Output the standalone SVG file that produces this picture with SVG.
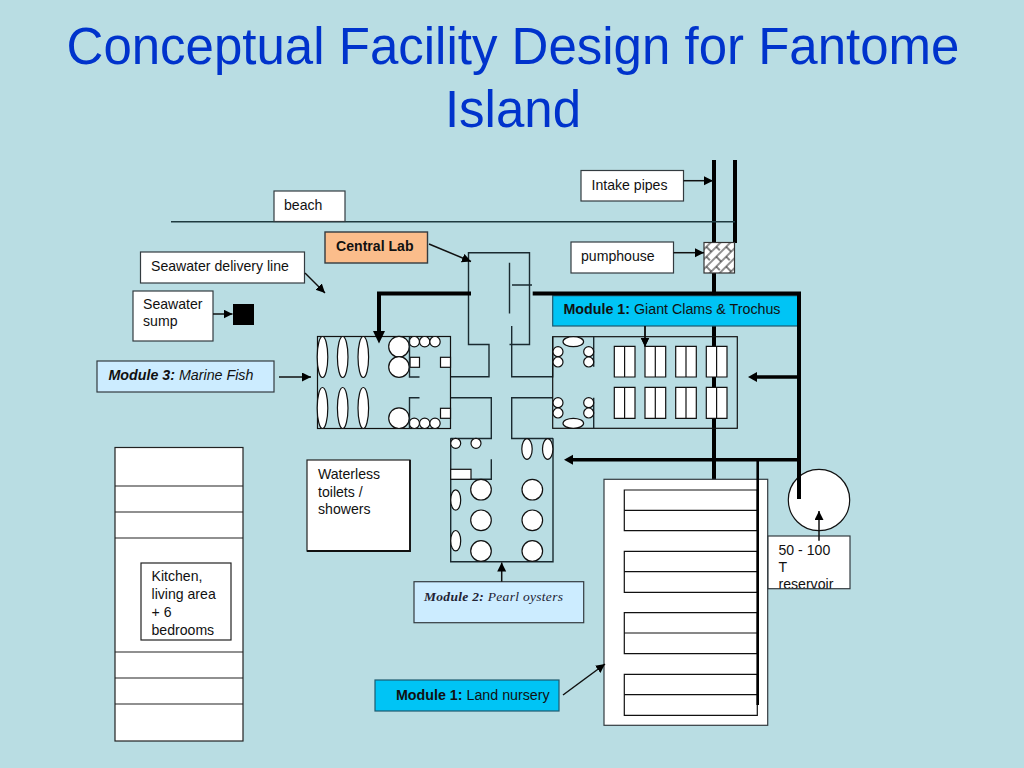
<svg xmlns="http://www.w3.org/2000/svg" width="1024" height="768" viewBox="0 0 1024 768">
<style>
text{font-family:"Liberation Sans",Arial,sans-serif;font-size:14.1px;fill:#111}
.title{font-size:51px;fill:#0033cc;text-anchor:middle}
.lab{font-size:14.25px}
.box{fill:#fff;stroke:#333b40;stroke-width:1.2}
.w{fill:#fff;stroke:#111;stroke-width:1.2}
.o{fill:none;stroke:#1a2a30;stroke-width:1.4}
.thin{fill:none;stroke:#111;stroke-width:1.5}
.thick{fill:none;stroke:#000;stroke-width:4}
.mid{fill:none;stroke:#000;stroke-width:2.6}
.a{marker-end:url(#sm)}
.s{font-family:"Liberation Serif","Times New Roman",serif;font-style:italic;fill:#223}
</style>
<defs>
<marker id="sm" markerUnits="userSpaceOnUse" markerWidth="10" markerHeight="10" refX="9" refY="4.5" orient="auto"><path d="M0 0L9 4.500L0 9z" fill="#000"/></marker>
<pattern id="hatch" patternUnits="userSpaceOnUse" width="14" height="14" patternTransform="rotate(-45 0 0)"><rect width="14" height="14" fill="#fff"/><path d="M0 2H14M0 9H14M3 2V9M10 9V16" stroke="#222" stroke-width="1.100" fill="none"/></pattern>
<clipPath id="resclip"><rect x="768" y="536" width="82" height="52.500"/></clipPath>
</defs>
<rect width="1024" height="768" fill="#b9dde3"/>
<g id="title">
<text class="title" x="513" y="64">Conceptual Facility Design for Fantome</text>
<text class="title" x="513" y="127">Island</text>
</g>
<g id="pipes-back">
<path class="thick" d="M714 160V480M735 160V243"/>
</g>
<g id="beach-line"><path d="M171 221.700H735" fill="none" stroke="#1f3a40" stroke-width="1.400"/></g>
<g id="node-beach"><rect class="box" x="274" y="191" width="71" height="30.500"/><text x="284" y="210">beach</text></g>
<g id="node-intake"><rect class="box" x="581" y="170.500" width="102.500" height="30.500"/><text x="591.500" y="190">Intake pipes</text></g>
<g id="node-pumphouse"><rect class="box" x="571" y="242" width="102.500" height="31"/><text x="581" y="261">pumphouse</text></g>
<g id="node-pump"><rect x="704" y="242.500" width="30.500" height="30.500" fill="url(#hatch)" stroke="#333" stroke-width="1.200"/></g>
<g id="node-central-lab"><rect x="325" y="232" width="102.500" height="31" fill="#fbbd8b" stroke="#333b40" stroke-width="1.400"/><text x="336" y="251" style="font-weight:bold">Central Lab</text></g>
<g id="node-delivery"><rect class="box" x="140.500" y="252" width="164" height="31"/><text x="151" y="271">Seawater delivery line</text></g>
<g id="node-sump"><rect class="box" x="133" y="291" width="80" height="50"/><text x="143" y="309">Seawater</text><text x="143" y="326">sump</text><rect x="233" y="304" width="21" height="21" fill="#000"/></g>
<g id="node-module3-label"><rect x="97" y="361" width="177" height="31" fill="#ccecff" stroke="#333b40" stroke-width="1.200"/><text class="lab" x="108.500" y="380"><tspan style="font-weight:bold;font-style:italic">Module 3: </tspan><tspan style="font-style:italic">Marine Fish</tspan></text></g>
<g id="node-central-building">
<path class="o" d="M450.500 376.700H489V344.500H468.500V252.700H529.500V344.500H509.500"/>
<path class="o" d="M509.500 262.700V313.500M512 285H532M511.700 326V376.700H552.700V336.700"/>
<path class="o" d="M450.500 397.700H491.300V438.500H450.500M553 397.700H511.700V438.500H553"/>
</g>
<g id="node-module3">
<rect x="317.500" y="336.500" width="133" height="92" fill="none" stroke="#111" stroke-width="1.200"/>
<g class="w">
<ellipse cx="322.500" cy="357" rx="5.300" ry="20.500"/><ellipse cx="342.700" cy="357" rx="5.300" ry="20.500"/><ellipse cx="363.300" cy="357" rx="5.300" ry="20.500"/>
<ellipse cx="322.500" cy="408" rx="5.300" ry="20.500"/><ellipse cx="342.700" cy="408" rx="5.300" ry="20.500"/><ellipse cx="363.300" cy="408" rx="5.300" ry="20.500"/>
<circle cx="399" cy="346.700" r="10.300"/><circle cx="399" cy="367" r="10.300"/><circle cx="399" cy="418.200" r="10.300"/>
<circle cx="414.300" cy="341.700" r="5.200"/><circle cx="424.700" cy="341.700" r="5.200"/><circle cx="435" cy="341.700" r="5.200"/>
<circle cx="414.300" cy="423.300" r="5.200"/><circle cx="424.700" cy="423.300" r="5.200"/><circle cx="435" cy="423.300" r="5.200"/>
<rect x="410" y="357.300" width="9.500" height="10"/><rect x="440.500" y="357.300" width="10" height="10"/><rect x="440.500" y="408.300" width="10" height="10"/>
</g>
<path class="o" d="M419.500 377H409.500V336.500M419.500 397.700H409.500V428.500"/>
</g>
<g id="node-module1-tanks">
<rect x="552.700" y="336.700" width="184.600" height="91.600" fill="none" stroke="#111" stroke-width="1.200"/>
<path class="o" d="M593.700 336.700V366.700M593.700 397.700V428.300"/>
<g class="w">
<ellipse cx="573.300" cy="341.700" rx="10.300" ry="5"/><ellipse cx="573.300" cy="423.300" rx="10.300" ry="5"/>
<circle cx="558" cy="351.700" r="5"/><circle cx="558" cy="362" r="5"/><circle cx="588.700" cy="351.700" r="5"/><circle cx="588.700" cy="362" r="5"/>
<circle cx="558" cy="402.700" r="5"/><circle cx="558" cy="413" r="5"/><circle cx="588.700" cy="402.700" r="5"/><circle cx="588.700" cy="413" r="5"/>
</g>
</g>
<g id="node-module2">
<path class="o" d="M450.700 438.300V561.700H553V438.300"/>
<path class="o" d="M491.300 459.300V479.300H450.700"/>
<g class="w">
<rect x="450.700" y="469.300" width="20.300" height="10"/>
<circle cx="455.700" cy="443.300" r="5"/><circle cx="476" cy="443.300" r="5"/>
<ellipse cx="527" cy="449" rx="5.200" ry="10.300"/><ellipse cx="547.700" cy="449" rx="5.200" ry="10.300"/>
<ellipse cx="455.700" cy="500" rx="5" ry="10.200"/><ellipse cx="455.700" cy="540.700" rx="5" ry="10.200"/>
<circle cx="481" cy="489.700" r="10.300"/><circle cx="481" cy="520.300" r="10.300"/><circle cx="481" cy="551" r="10.300"/>
<circle cx="532.300" cy="489.700" r="10.300"/><circle cx="532.300" cy="520.300" r="10.300"/><circle cx="532.300" cy="551" r="10.300"/>
</g>
</g>
<g id="node-module2-label"><rect x="414" y="581.700" width="169.700" height="41" fill="#ccecff" stroke="#333b40" stroke-width="1.200"/><text class="s" x="424" y="601" style="font-size:13.500px;letter-spacing:.3px"><tspan style="font-weight:bold">Module 2: </tspan>Pearl oysters</text></g>
<g id="node-module1-label"><rect x="552.700" y="295.700" width="246" height="30.300" fill="#00c4f5" stroke="#1d5a70" stroke-width="1.200"/><text class="lab" x="563.500" y="314"><tspan style="font-weight:bold">Module 1: </tspan>Giant Clams &amp; Trochus</text></g>
<g id="node-land-nursery-label"><rect x="375" y="680" width="184" height="31" fill="#00c4f5" stroke="#1d5a70" stroke-width="1.200"/><text class="lab" x="396" y="700"><tspan style="font-weight:bold">Module 1: </tspan>Land nursery</text></g>
<g id="node-toilets"><rect x="307" y="460" width="103" height="91" fill="#fff" stroke="#222" stroke-width="1.200"/><path d="M307 551H410V460" fill="none" stroke="#111" stroke-width="1.800"/><text x="318" y="479">Waterless</text><text x="318" y="496.500">toilets /</text><text x="318" y="514">showers</text></g>
<g id="node-house">
<rect x="115" y="447.500" width="128" height="293.500" fill="#fff" stroke="#222" stroke-width="1.200"/>
<path d="M115 486H243M115 512H243M115 538H243M115 652H243M115 678H243M115 704H243" stroke="#222" stroke-width="1.200" fill="none"/>
<rect x="141" y="563" width="90" height="77" fill="#fff" stroke="#222" stroke-width="1.200"/>
<text x="151.500" y="581">Kitchen,</text><text x="151.500" y="599">living area</text><text x="151.500" y="617">+ 6</text><text x="151.500" y="635">bedrooms</text>
</g>
<g id="node-nursery">
<rect x="604" y="479.300" width="163.700" height="246" fill="#fff" stroke="#333b40" stroke-width="1.200"/>
<g class="w">
<path d="M624.300 490H757.300V510.300H624.300zM624.300 510.300H757.300V530.700H624.300z"/>
<path d="M624.300 551.300H757.300V571.700H624.300zM624.300 571.700H757.300V592.300H624.300z"/>
<path d="M624.300 612.700H757.300V633H624.300zM624.300 633H757.300V653.700H624.300z"/>
<path d="M624.300 674.300H757.300V694.700H624.300zM624.300 694.700H757.300V715.300H624.300z"/>
</g>
</g>
<g id="node-reservoir">
<circle cx="819" cy="500" r="30.700" fill="#fff" stroke="#111" stroke-width="1.200"/>
<rect class="box" x="768" y="536" width="82" height="52.700"/>
<g clip-path="url(#resclip)"><text x="778.500" y="555">50 - 100</text><text x="778.500" y="572">T</text><text x="778.500" y="589">reservoir</text></g>
</g>
<g id="connectors">
<path class="thick" d="M471 293.500H379V332"/>
<path d="M379 343.500L373 331H385z" fill="#000"/>
<path class="thick" d="M532.700 293.500H799V499"/>
<path class="mid" d="M799 377H755" style="stroke-width:3.500"/>
<path d="M748 377L757 372V382z" fill="#000"/>
<path class="mid" d="M799 459.700H571" style="stroke-width:3.500"/>
<path d="M564 459.700L573 454.700V464.700z" fill="#000"/>
<path class="mid" d="M757.700 459.700V705"/>
<path class="thin a" d="M683.500 180.700H713"/>
<path class="thin a" d="M673.500 252.700H704"/>
<path class="thin a" d="M429 244L471 261.500"/>
<path class="thin a" d="M305 273L325 293"/>
<path class="thin a" d="M213 314H232.500"/>
<path class="thin a" d="M279 377H311"/>
<path class="thin a" d="M645 326V346.500"/>
<path class="thin a" d="M501.700 581.700V562.500"/>
<path class="thin a" d="M563 695L605 664"/>
<path class="thin a" d="M819 540.700V511"/>
</g>
<g id="tanks">
<g class="w">
<path d="M614.300 346.300h10.300v30.700h-10.300zM624.600 346.300h10.400v30.700h-10.400zM645 346.300h10.300v30.700h-10.300zM655.300 346.300h10.400v30.700h-10.400zM675.700 346.300h10.300v30.700h-10.300zM686 346.300h10.300v30.700h-10.300zM706.300 346.300h10.300v30.700h-10.300zM716.600 346.300h10.400v30.700h-10.400z"/>
<path d="M614.300 387.300h10.300v31h-10.300zM624.600 387.300h10.400v31h-10.400zM645 387.300h10.300v31h-10.300zM655.300 387.300h10.400v31h-10.400zM675.700 387.300h10.300v31h-10.300zM686 387.300h10.300v31h-10.300zM706.300 387.300h10.300v31h-10.300zM716.600 387.300h10.400v31h-10.400z"/>
</g>
<path d="M645 326V346.500" class="thin"/><path d="M641 338L645 347L649 338z" fill="#000"/>
</g>
</svg>
